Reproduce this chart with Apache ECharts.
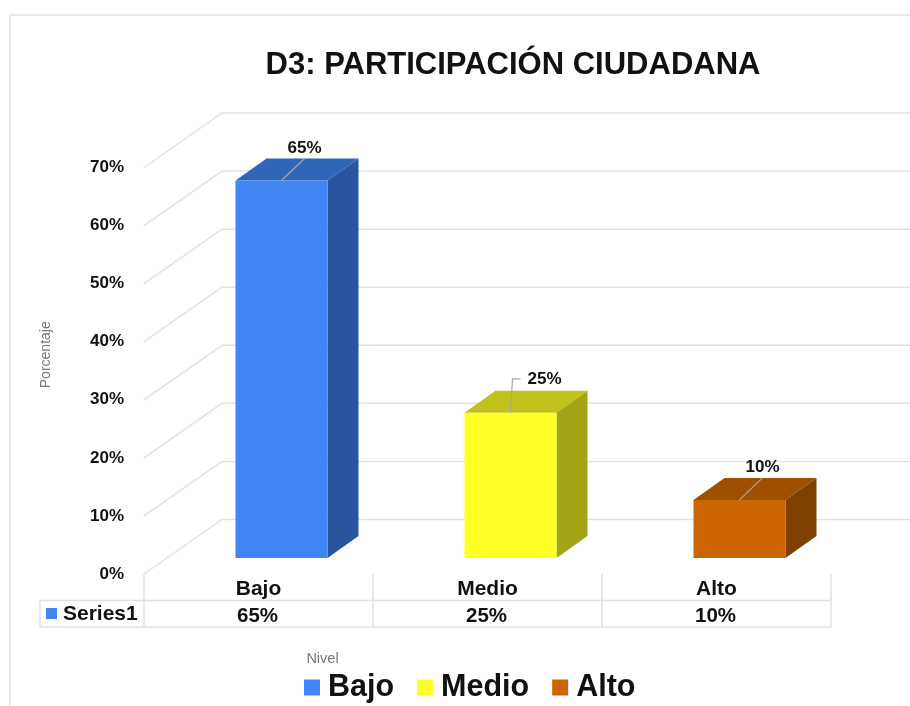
<!DOCTYPE html>
<html>
<head>
<meta charset="utf-8">
<style>html,body{margin:0;padding:0;background:#fff}#c{width:910px;height:706px}</style>
<script src="https://cdn.jsdelivr.net/npm/echarts@6/dist/echarts.min.js"></script>
</head>
<body>
<div id="c"></div>
<script>
const categories = ['Bajo', 'Medio', 'Alto'];
const values = [65, 25, 10];
const yTicks = [0, 10, 20, 30, 40, 50, 60, 70];
const seriesLabel = 'Series1';
const frontColors = ['#4285F4', '#FFFF26', '#CC6600'];
const topColors = ['#3066B8', '#BEC21A', '#9E5000'];
const sideColors = ['#2A569F', '#A3A517', '#804000'];

const FONT = '"Liberation Sans", Arial, sans-serif';
const GRID = '#e2e2e2';
const LEAD = '#a6a6a6';
const chart = echarts.init(document.getElementById('c'), null, {renderer: 'canvas'});

const WALL = [78, -54.5], BASE = [23, -16], DEPTH = [31, -22], BAR_W = 92;
const LEADERS = [
  {pts: [[23, -22]], tx: 23, ty: -32, align: 'center'},
  {pts: [[2, -34], [10, -34]], tx: 17, ty: -34, align: 'left'},
  {pts: [[23, -22]], tx: 23, ty: -33, align: 'center'}
];

function barRender(i) {
  return function (params, api) {
    const top = api.coord([i, values[i]]);
    const zero = api.coord([i, 0]);
    const l = top[0] + BASE[0] - BAR_W / 2, r = l + BAR_W;
    const t = top[1] + BASE[1], b = zero[1] + BASE[1];
    const dx = DEPTH[0], dy = DEPTH[1];
    const mid = l + BAR_W / 2;
    const ld = LEADERS[i];
    const pts = [[mid, t]].concat(ld.pts.map(p => [mid + p[0], t + p[1]]));
    return {
      type: 'group',
      children: [
        {type: 'polygon', shape: {points: [[l, t], [r, t], [r + dx, t + dy], [l + dx, t + dy]]}, style: {fill: topColors[i]}},
        {type: 'polygon', shape: {points: [[r, t], [r + dx, t + dy], [r + dx, b + dy], [r, b]]}, style: {fill: sideColors[i]}},
        {type: 'rect', shape: {x: l, y: t, width: BAR_W, height: b - t}, style: {fill: frontColors[i]}},
        {type: 'polyline', shape: {points: pts}, style: {stroke: LEAD, lineWidth: 1.2, fill: null}},
        {type: 'text', style: {x: mid + ld.tx, y: t + ld.ty, text: values[i] + '%', align: ld.align, verticalAlign: 'middle', fill: '#111', font: 'bold 17px ' + FONT}},
        {type: 'text', style: {x: top[0] - 1, y: zero[1] + 42, text: values[i] + '%', align: 'center', verticalAlign: 'middle', fill: '#111', font: 'bold 20.5px ' + FONT}}
      ]
    };
  };
}

const barSeries = categories.map((name, i) => ({
  name: name,
  type: 'custom',
  coordinateSystem: 'cartesian2d',
  itemStyle: {color: frontColors[i]},
  legendIcon: 'rect',
  z: 5,
  encode: {x: 0, y: 1},
  data: [[i, values[i]]],
  renderItem: barRender(i)
}));

const gridSeries = {
  type: 'custom',
  coordinateSystem: 'cartesian2d',
  silent: true,
  z: 1,
  encode: {y: 1},
  data: yTicks.map(v => [0, v]),
  renderItem: function (params, api) {
    const y = api.coord([0, api.value(1)])[1];
    const x0 = params.coordSys.x;
    return {
      type: 'polyline',
      shape: {points: [[x0, y], [x0 + WALL[0], y + WALL[1]], [910, y + WALL[1]]]},
      style: {stroke: GRID, lineWidth: 1.5, fill: null}
    };
  }
};

const hline = (x1, x2, y) => ({type: 'line', shape: {x1, y1: y, x2, y2: y}, style: {stroke: GRID, lineWidth: 1.5}, z: 2});
const vline = (x, y1, y2) => ({type: 'line', shape: {x1: x, y1, x2: x, y2}, style: {stroke: GRID, lineWidth: 1.5}, z: 2});

chart.setOption({
  animation: false,
  backgroundColor: '#fff',
  title: {
    text: 'D3: PARTICIPACIÓN CIUDADANA',
    left: 508, top: 45, textAlign: 'center',
    textStyle: {fontFamily: FONT, fontWeight: 'bold', fontSize: 31, color: '#111'}
  },
  legend: {
    data: categories,
    left: 299, top: 667,
    itemWidth: 16, itemHeight: 16, itemGap: 23,
    icon: 'rect',
    textStyle: {fontFamily: FONT, fontWeight: 'bold', fontSize: 30.5, color: '#111', padding: [0, 0, 0, 3]}
  },
  grid: {left: 144, top: 167.5, width: 687, height: 406.5, containLabel: false},
  xAxis: {
    type: 'category',
    data: categories,
    name: 'Nivel',
    nameLocation: 'middle',
    nameGap: 77,
    nameTextStyle: {fontFamily: FONT, fontSize: 14.5, color: '#777', padding: [0, 330, 0, 0]},
    axisLine: {show: false},
    axisTick: {show: true, length: 53, lineStyle: {color: GRID, width: 1.5}, alignWithLabel: false},
    splitLine: {show: false},
    axisLabel: {margin: 5, fontFamily: FONT, fontWeight: 'bold', fontSize: 21, color: '#111'}
  },
  yAxis: {
    type: 'value',
    min: 0, max: 70, interval: 10,
    name: 'Porcentaje',
    nameLocation: 'middle',
    nameGap: 91,
    nameRotate: 90,
    nameTextStyle: {fontFamily: FONT, fontSize: 14, color: '#777', padding: [0, 0, 0, 32]},
    axisLine: {show: false},
    axisTick: {show: false},
    splitLine: {show: false},
    axisLabel: {margin: 20, padding: [2, 0, 0, 0], formatter: '{value}%', fontFamily: FONT, fontWeight: 'bold', fontSize: 17, color: '#111'}
  },
  graphic: [
    vline(10, 15, 706),
    hline(10, 910, 15),
    hline(40, 831, 600.5),
    hline(40, 831, 627),
    vline(40, 600.5, 627),
    {type: 'rect', shape: {x: 46, y: 608, width: 11, height: 11}, style: {fill: frontColors[0]}, z: 3},
    {type: 'text', style: {x: 63, y: 614, text: seriesLabel, verticalAlign: 'middle', fill: '#111', font: 'bold 21px ' + FONT}, z: 3}
  ],
  series: [gridSeries].concat(barSeries)
});
</script>
</body>
</html>
